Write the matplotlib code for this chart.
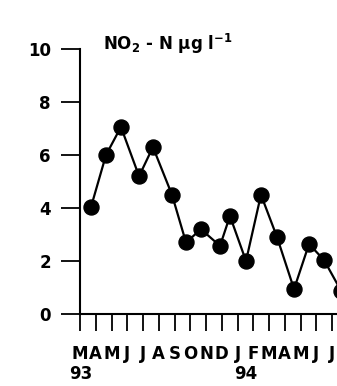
import matplotlib
matplotlib.use("Agg")
import matplotlib.pyplot as plt

# Data (x in months since March 1993; tick i = month start)
month_pos = [0.70, 1.65, 2.60, 3.75, 4.63, 5.84, 6.73, 7.68, 8.89, 9.52,
             10.54, 11.49, 12.51, 13.59, 14.54, 15.49, 16.60]
no2_n = [4.04, 6.0, 7.06, 5.2, 6.3, 4.5, 2.7, 3.2, 2.57, 3.7,
         2.0, 4.5, 2.9, 0.94, 2.64, 2.04, 0.85]
month_labels = ["M", "A", "M", "J", "J", "A", "S", "O", "N", "D",
                "J", "F", "M", "A", "M", "J", "J"]
year_labels = ["93", "94"]
year_ticks = [0, 10]
y_ticks = [0, 2, 4, 6, 8, 10]

plt.rcParams['font.family'] = ['DejaVu Sans']
plt.rcParams['mathtext.fontset'] = 'dejavusans'

fig = plt.figure(figsize=(3.37, 3.86), dpi=100)
ax = fig.add_axes([0.2374, 0.1865, 17 * 15.75 / 337, 0.6865])

ax.plot(month_pos, no2_n, color='black', lw=1.6, marker='o', ms=10.8,
        mfc='black', mec='black', clip_on=False, zorder=3)

ax.set_xlim(0, 17)
ax.set_ylim(0, 10)
ax.spines['top'].set_visible(False)
ax.spines['right'].set_visible(False)
for s in ('left', 'bottom'):
    ax.spines[s].set_linewidth(1.5)

ax.set_yticks(y_ticks)
ax.set_yticklabels([str(v) for v in y_ticks], fontsize=12, fontweight='bold')
ax.tick_params(axis='y', direction='out', length=14, width=1.3, pad=7)

ax.set_xticks(range(len(month_labels)))
ax.set_xticklabels(month_labels, fontsize=12, fontweight='bold')
ax.tick_params(axis='x', direction='out', length=12, width=1.3, pad=10)

offsets = [-7.5, -2.2]
for lab, xt, off in zip(year_labels, year_ticks, offsets):
    ax.annotate(lab, xy=(xt, 0), xycoords=('data', 'axes fraction'),
                xytext=(off, -36.5), textcoords='offset points',
                ha='left', va='top', fontsize=12, fontweight='bold',
                annotation_clip=False)

fig.text(103 / 337, (386 - 50) / 386, r'NO$_\mathbf{2}$ - N µg l$^\mathbf{-1}$',
         fontsize=12, fontweight='bold', ha='left', va='baseline')

fig.savefig('out.png', dpi=100)
